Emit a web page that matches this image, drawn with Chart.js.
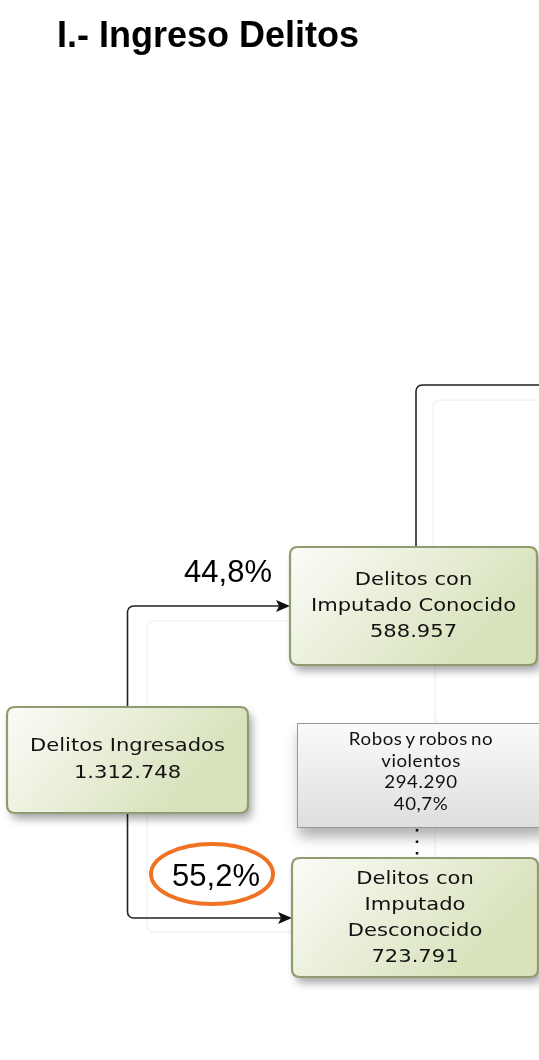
<!DOCTYPE html>
<html>
<head>
<meta charset="utf-8">
<script src="https://cdn.jsdelivr.net/npm/chart.js@4/dist/chart.umd.min.js"></script>
<style>
  html, body { margin: 0; padding: 0; background: #fff; overflow: hidden; }
  canvas { display: block; }
</style>
</head>
<body>
<canvas id="chart" width="539" height="1060"></canvas>
<script>
// データ
const titleText = "I.- Ingreso Delitos";
const nodeLines = [
  ["Delitos Ingresados"],
  ["Delitos con", "Imputado Conocido"],
  ["Delitos con", "Imputado", "Desconocido"],
  ["Robos y robos no", "violentos"],
];
const nodeValues = [1312748, 588957, 723791, 294290];
const branchShares = ["44,8%", "55,2%"];
const robosShare = "40,7%";

// レイアウト（ページ座標）
const boxLeft = [7, 290, 292, 297];
const boxTop = [707, 547, 858, 723];
const boxRight = [248, 537, 538, 545];
const boxBottom = [813, 665, 977, 828];
const boxKind = ["green", "green", "green", "grey"];
const lineGap = [27, 26, 26, 21.7];
const textShiftY = [0, 0, 1, -3.5];

const W = 539;
const H = 1060;

// 1.312.748 のような書式
function fmt(n) {
  return n.toString().replace(/\B(?=(\d{3})+(?!\d))/g, ".");
}

function roundRect(ctx, x, y, w, h, r) {
  ctx.beginPath();
  ctx.moveTo(x + r, y);
  ctx.lineTo(x + w - r, y);
  ctx.quadraticCurveTo(x + w, y, x + w, y + r);
  ctx.lineTo(x + w, y + h - r);
  ctx.quadraticCurveTo(x + w, y + h, x + w - r, y + h);
  ctx.lineTo(x + r, y + h);
  ctx.quadraticCurveTo(x, y + h, x, y + h - r);
  ctx.lineTo(x, y + r);
  ctx.quadraticCurveTo(x, y, x + r, y);
  ctx.closePath();
}

// 角の丸い折れ線
function elbow(ctx, pts, r) {
  ctx.beginPath();
  ctx.moveTo(pts[0][0], pts[0][1]);
  for (let i = 1; i < pts.length - 1; i++) {
    ctx.arcTo(pts[i][0], pts[i][1], pts[i + 1][0], pts[i + 1][1], r);
  }
  ctx.lineTo(pts[pts.length - 1][0], pts[pts.length - 1][1]);
  ctx.stroke();
}

function arrowHead(ctx, x, y) {
  ctx.beginPath();
  ctx.moveTo(x, y);
  ctx.lineTo(x - 14, y - 6);
  ctx.lineTo(x - 11, y);
  ctx.lineTo(x - 14, y + 6);
  ctx.closePath();
  ctx.fill();
}

function stretchedText(ctx, text, x, y, sx) {
  ctx.save();
  ctx.translate(x, y);
  ctx.scale(sx, 1);
  ctx.fillText(text, 0, 0);
  ctx.restore();
}

const flowPlugin = {
  id: "flow",
  afterDraw(chart) {
    const ctx = chart.ctx;
    const xs = chart.scales.x;
    const ys = chart.scales.y;
    const px = (v) => xs.getPixelForValue(v);
    const py = (v) => ys.getPixelForValue(v);

    ctx.save();

    // タイトル
    ctx.fillStyle = "#000";
    ctx.font = "bold 36px 'Liberation Sans', Arial, sans-serif";
    ctx.textBaseline = "alphabetic";
    ctx.textAlign = "left";
    ctx.fillText(titleText, px(57), py(47));

    // 薄いグループ枠
    ctx.strokeStyle = "#ececec";
    ctx.lineWidth = 1;
    roundRect(ctx, px(147), py(621), px(435) - px(147), py(932) - py(621), 7);
    ctx.stroke();
    roundRect(ctx, px(433), py(400), px(570) - px(433), py(620) - py(400), 7);
    ctx.stroke();

    // 接続線
    ctx.strokeStyle = "#222";
    ctx.fillStyle = "#111";
    ctx.lineWidth = 1.6;
    const midX = (boxLeft[0] + boxRight[0]) / 2;
    elbow(ctx, [[px(midX), py(boxTop[0])], [px(midX), py(606)], [px(boxLeft[1] - 10), py(606)]], 6);
    arrowHead(ctx, px(boxLeft[1]), py(606));
    elbow(ctx, [[px(midX), py(boxBottom[0])], [px(midX), py(918)], [px(boxLeft[2] - 10), py(918)]], 6);
    arrowHead(ctx, px(boxLeft[2]), py(918));
    elbow(ctx, [[px(416), py(boxTop[1])], [px(416), py(385)], [px(560), py(385)]], 6);

    // 点線
    ctx.save();
    ctx.strokeStyle = "#111";
    ctx.lineWidth = 2.5;
    ctx.setLineDash([2.5, 9]);
    ctx.beginPath();
    ctx.moveTo(px(417), py(829));
    ctx.lineTo(px(417), py(858));
    ctx.stroke();
    ctx.restore();

    // ボックス
    for (let i = 0; i < nodeLines.length; i++) {
      const x = px(boxLeft[i]);
      const y = py(boxTop[i]);
      const w = px(boxRight[i]) - x;
      const h = py(boxBottom[i]) - y;
      ctx.save();
      if (boxKind[i] === "green") {
        const g = ctx.createLinearGradient(x, y, x + w * 0.6, y + h * 1.2);
        g.addColorStop(0, "#fbfcf8");
        g.addColorStop(1, "#d8e2bb");
        ctx.shadowColor = "rgba(0,0,0,0.35)";
        ctx.shadowBlur = 9;
        ctx.shadowOffsetX = 4;
        ctx.shadowOffsetY = 6;
        roundRect(ctx, x, y, w, h, 8);
        ctx.fillStyle = g;
        ctx.fill();
        ctx.shadowColor = "transparent";
        ctx.strokeStyle = "#8e9c70";
        ctx.lineWidth = 2.2;
        ctx.stroke();
      } else {
        const g = ctx.createLinearGradient(x, y, x, y + h);
        g.addColorStop(0, "#fafafa");
        g.addColorStop(1, "#dedede");
        ctx.shadowColor = "rgba(0,0,0,0.3)";
        ctx.shadowBlur = 12;
        ctx.shadowOffsetX = 2;
        ctx.shadowOffsetY = 9;
        ctx.fillStyle = g;
        ctx.fillRect(x, y, w, h);
        ctx.shadowColor = "transparent";
        ctx.strokeStyle = "#9a9a9a";
        ctx.lineWidth = 1;
        ctx.strokeRect(x + 0.5, y + 0.5, w, h - 1);
      }
      ctx.restore();

      // テキスト
      const lines = nodeLines[i].concat([fmt(nodeValues[i])]);
      if (boxKind[i] === "grey") lines.push(robosShare);
      const cx = (x + x + w) / 2;
      const cy = (y + y + h) / 2 + textShiftY[i];
      const gap = lineGap[i];
      ctx.save();
      ctx.fillStyle = "#111";
      ctx.textAlign = "center";
      ctx.textBaseline = "middle";
      let sx;
      if (boxKind[i] === "green") {
        ctx.font = "18px 'DejaVu Sans', Verdana, sans-serif";
        sx = 1.17;
      } else {
        ctx.font = "17px Lato, 'Open Sans', sans-serif";
        ctx.letterSpacing = "0.5px";
        ctx.wordSpacing = "-2px";
        sx = 1.1;
      }
      const startY = cy - (gap * (lines.length - 1)) / 2;
      lines.forEach((t, k) => stretchedText(ctx, t, cx, startY + k * gap, sx));
      ctx.restore();
    }

    // 割合ラベル
    ctx.fillStyle = "#000";
    ctx.font = "31px 'Liberation Sans', Arial, sans-serif";
    ctx.textAlign = "center";
    ctx.textBaseline = "middle";
    ctx.fillText(branchShares[0], px(228), py(573));
    ctx.fillText(branchShares[1], px(216), py(877));

    // オレンジの楕円
    ctx.strokeStyle = "#f07223";
    ctx.lineWidth = 4;
    ctx.beginPath();
    ctx.ellipse(px(212), py(874), 61, 30, 0, 0, Math.PI * 2);
    ctx.stroke();

    ctx.restore();
  },
};

const ctx = document.getElementById("chart").getContext("2d");
new Chart(ctx, {
  type: "scatter",
  data: {
    datasets: [
      {
        data: nodeValues.map((v, i) => ({
          x: (boxLeft[i] + boxRight[i]) / 2,
          y: (boxTop[i] + boxBottom[i]) / 2,
        })),
        pointRadius: 0,
      },
    ],
  },
  options: {
    responsive: false,
    animation: false,
    layout: { padding: 0 },
    plugins: { legend: { display: false }, tooltip: { enabled: false } },
    scales: {
      x: { type: "linear", min: 0, max: W, display: false },
      y: { type: "linear", min: 0, max: H, reverse: true, display: false },
    },
  },
  plugins: [flowPlugin],
});
</script>
</body>
</html>
